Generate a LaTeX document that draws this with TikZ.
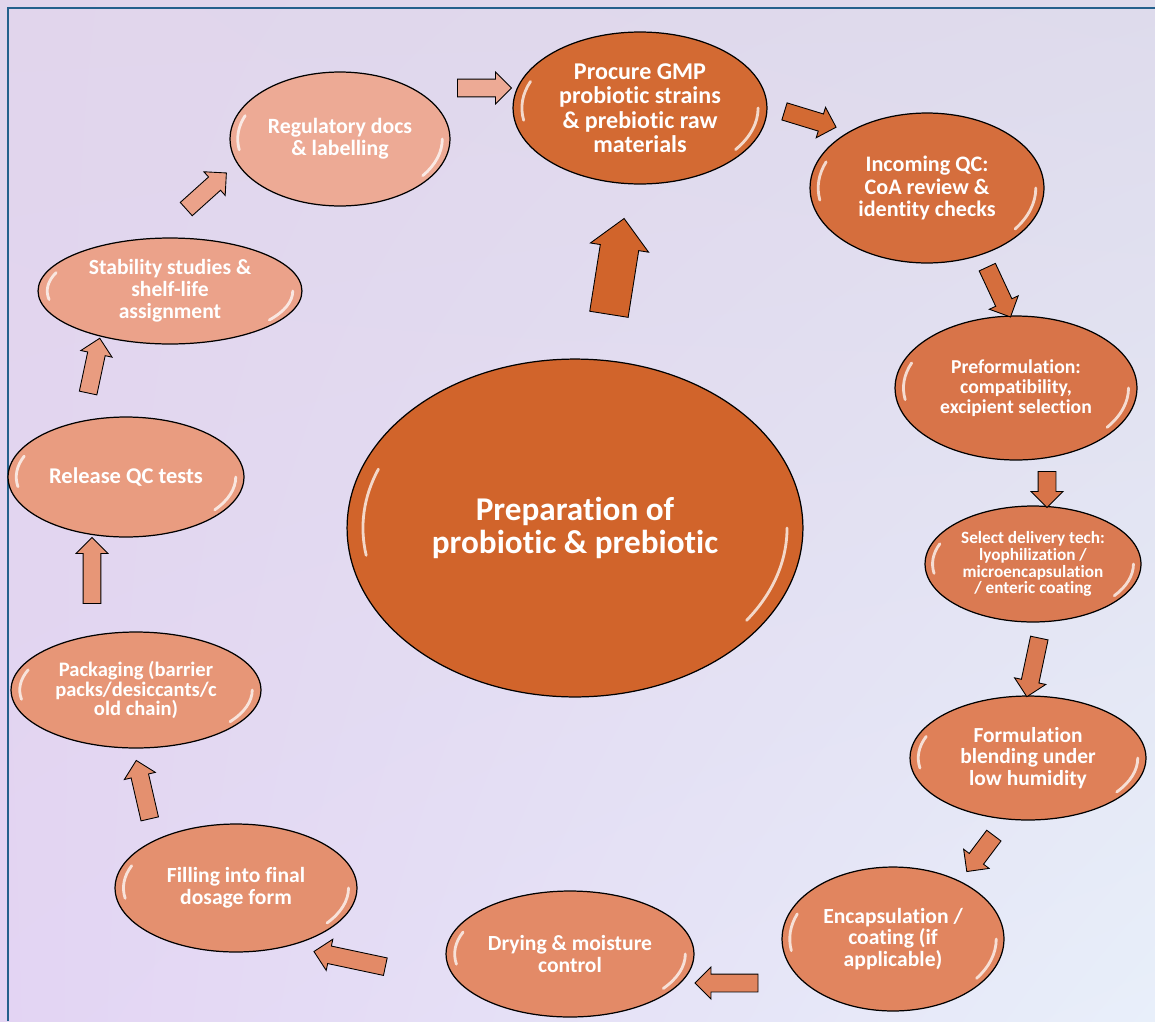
\documentclass[tikz,border=0pt]{standalone}
\usepackage{fontspec}
\setmainfont{Carlito}[Ligatures=NoCommon]
\usepackage{tikz}
\usetikzlibrary{shapes.geometric, shapes.arrows, shadings}

\definecolor{bgtl}{HTML}{E1D5EC}
\definecolor{bgtr}{HTML}{DEDBEC}
\definecolor{bgbl}{HTML}{E3D4F3}
\definecolor{bgbr}{HTML}{E8EFFA}
\definecolor{frame}{HTML}{24608C}
\definecolor{cCentre}{HTML}{D1642B}
\definecolor{cProc}{HTML}{D36A33}
\definecolor{cInc}{HTML}{D56E3D}
\definecolor{cPre}{HTML}{D87449}
\definecolor{cSel}{HTML}{DA7A52}
\definecolor{cForm}{HTML}{DF8058}
\definecolor{cEnc}{HTML}{E1855F}
\definecolor{cDry}{HTML}{E38A67}
\definecolor{cFill}{HTML}{E4906F}
\definecolor{cPack}{HTML}{E79677}
\definecolor{cRel}{HTML}{E99C80}
\definecolor{cStab}{HTML}{EBA28A}
\definecolor{cReg}{HTML}{EDAA95}

\begin{document}
\begin{tikzpicture}[x=0.02cm, y=-0.02cm,
    stage/.style={ellipse, draw=black, line width=0.7pt, inner sep=0pt, text=white, align=center},
    rxy/.style 2 args={minimum width=#1*0.04cm, minimum height=#2*0.04cm},
    fs/.style 2 args={font=\bfseries\fontsize{#1}{#2}\selectfont},
    blk/.style={single arrow, draw=black, line width=0.5pt, inner xsep=0pt, inner ysep=0.17cm,
        single arrow head extend=0.14cm, minimum height=#1},
    shine/.style={white, line width=1.6pt, opacity=0.75, line cap=round}]

    \useasboundingbox (0,0) rectangle (1155,1021);
    \shade[upper left=bgtl, upper right=bgtr, lower left=bgbl, lower right=bgbr] (0,0) rectangle (1155,1021);
    \draw[frame, line width=1.2pt] (8,1021) -- (8,8) -- (1155,8);

    % centre
    \node[stage, rxy={228}{169}, fill=cCentre, fs={18.9}{18.5}] (centre) at (575,528) {Preparation of\\ probiotic \& prebiotic};

    % cycle of stages
    \node[stage, rxy={127}{76}, fill=cProc, fs={13.7}{13.9}] (procure) at (640,108) {Procure GMP\\ probiotic strains\\ \& prebiotic raw\\ materials};
    \node[stage, rxy={117}{75}, fill=cInc, fs={12.6}{12.7}] (incoming) at (927,188) {Incoming QC:\\ CoA review \&\\ identity checks};
    \node[stage, rxy={121}{72}, fill=cPre, fs={11.2}{11.3}] (preform) at (1016,388) {Preformulation:\\ compatibility,\\ excipient selection};
    \node[stage, rxy={108}{58}, fill=cSel, fs={9.8}{9.6}] (select) at (1033,564) {Select delivery tech:\\ lyophilization /\\ microencapsulation\\ / enteric coating};
    \node[stage, rxy={118}{62}, fill=cForm, fs={12.2}{12.3}] (formulation) at (1028,758) {Formulation\\ blending under\\ low humidity};
    \node[stage, rxy={111}{72}, fill=cEnc, fs={12.3}{12.3}] (encap) at (893,939) {Encapsulation /\\ coating (if\\ applicable)};
    \node[stage, rxy={124}{63}, fill=cDry, fs={12.3}{12.4}] (drying) at (570,954) {Drying \& moisture\\ control};
    \node[stage, rxy={121}{64}, fill=cFill, fs={12.3}{12.4}] (filling) at (236,888) {Filling into final\\ dosage form};
    \node[stage, rxy={125}{58}, fill=cPack, fs={11.7}{11.3}] (packaging) at (136,690) {Packaging (barrier\\ packs/desiccants/c\\ old chain)};
    \node[stage, rxy={118}{60}, fill=cRel, fs={12.8}{12.8}] (release) at (126,477) {Release QC tests};
    \node[stage, rxy={132}{53}, fill=cStab, fs={12.3}{12.4}] (stability) at (170,291) {Stability studies \&\\ shelf-life\\ assignment};
    \node[stage, rxy={110}{67}, fill=cReg, fs={12.4}{12.5}] (regulatory) at (340,139) {Regulatory docs\\ \& labelling};

    % glossy streaks
    \foreach \n/\a/\b in {centre/228/169, procure/127/76, incoming/117/75, preform/121/72,
        select/108/58, formulation/118/62, encap/111/72, drying/124/63, filling/121/64,
        packaging/125/58, release/118/60, stability/132/53, regulatory/110/67}
    {
        \draw[shine, shift={(\n.center)}] (158:{0.93*\a*0.02cm} and {0.93*\b*0.02cm})
            arc[start angle=158, end angle=190, x radius=0.93*\a*0.02cm, y radius=0.93*\b*0.02cm];
        \draw[shine, shift={(\n.center)}] (-36:{0.93*\a*0.02cm} and {0.93*\b*0.02cm})
            arc[start angle=-36, end angle=0, x radius=0.93*\a*0.02cm, y radius=0.93*\b*0.02cm];
    }

    % block arrows
    \node[blk=1.94cm, inner ysep=0.38cm, single arrow head extend=0.2cm, fill=cCentre, rotate=81] (up) at (615,276) {};
    \node[blk=1.08cm, fill=cReg] (a1) at (480,88) {};
    \node[blk=1.08cm, fill=cProc, rotate=-17] (a2) at (806,118) {};
    \node[blk=1.1cm, fill=cInc, rotate=-65] (a3) at (997,288) {};
    \node[blk=0.72cm, fill=cPre, rotate=-90] (a4) at (1047,485) {};
    \node[blk=1.2cm, fill=cSel, rotate=-102] (a5) at (1034,663) {};
    \node[blk=0.9cm, fill=cForm, rotate=-127] (a6) at (983,850) {};
    \node[blk=1.26cm, fill=cEnc, rotate=180] (a7) at (731,983) {};
    \node[blk=1.46cm, fill=cDry, rotate=168] (a8) at (354,960) {};
    \node[blk=1.2cm, fill=cFill, rotate=103] (a9) at (144,794) {};
    \node[blk=1.32cm, fill=cPack, rotate=90] (a10) at (92,575) {};
    \node[blk=1.12cm, fill=cRel, rotate=78] (a11) at (93,370) {};
    \node[blk=1.08cm, fill=cStab, rotate=42] (a12) at (203,194) {};
\end{tikzpicture}
\end{document}
